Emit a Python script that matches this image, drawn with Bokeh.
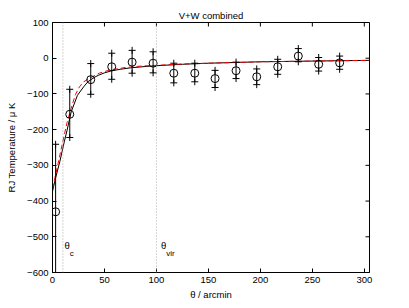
import math
from bokeh.plotting import figure
from bokeh.models import Span, Range1d, FixedTicker
from bokeh.core.properties import value
from bokeh.embed import file_html
from bokeh.resources import INLINE

# data points (theta in arcmin, T in micro K)
theta = [3, 16.6, 36.8, 57, 76.6, 96.8, 116.7, 136.9, 156.4, 176.6, 196.5, 216.7, 236.5, 256.1, 276.3]
temp = [-430, -157, -60, -24, -11, -14, -42, -42, -57, -35, -52, -24, 6, -17, -13]
err_hi = [-241, -87, -15, 14, 22, 18, -14, -14, -34, -11, -30, -3, 27, 2, 6]
err_lo = [-660, -222, -101, -59, -42, -41, -69, -66, -82, -57, -74, -45, -10, -36, -31]

# model curves
model_x = [0, 3, 7, 11.5, 14, 18, 24, 30, 34, 40, 44, 50, 56, 65, 75, 90, 100, 125, 150, 200, 250, 305]
model_y = [-373, -335, -290, -232, -202, -150, -104, -80, -66, -54, -48, -41, -36, -31, -27, -23, -21, -17, -14, -10, -8, -6]
alt_x = [0, 5, 10, 14, 18, 22, 26, 30, 37, 45, 55, 70, 85, 100, 125, 150, 200, 250, 305]
alt_y = [-365, -300, -232, -180, -140, -102, -80, -66, -54, -42, -33, -26, -22, -20, -16, -14, -10, -8, -6]

theta_c = 10
theta_vir = 100

x_min, x_max = 0, 305
y_min, y_max = -600, 100
x_ticks = [0, 50, 100, 150, 200, 250, 300]
y_ticks = [-600, -500, -400, -300, -200, -100, 0, 100]

FONT = "Liberation Sans"
FS = "9.5px"

p = figure(frame_width=317, frame_height=250, output_backend="svg", toolbar_location=None,
           x_range=Range1d(x_min, x_max), y_range=Range1d(y_min, y_max),
           min_border_left=52, min_border_top=22, min_border_right=20, min_border_bottom=30,
           title="V+W combined")
p.title.text_font = FONT
p.title.text_font_size = FS
p.title.text_font_style = "normal"
p.title.text_color = "black"
p.title.align = "center"
p.title.standoff = 3

p.background_fill_color = "white"
p.border_fill_color = "white"
p.outline_line_color = "black"
p.outline_line_width = 1
p.xgrid.visible = False
p.ygrid.visible = False

for ax in (p.xaxis[0], p.yaxis[0]):
    ax.major_tick_in = 4
    ax.major_tick_out = 0
    ax.minor_tick_line_color = None
    ax.major_label_text_font = FONT
    ax.major_label_text_font_size = FS
    ax.major_label_text_color = "black"
    ax.axis_label_text_font = FONT
    ax.axis_label_text_font_size = FS
    ax.axis_label_text_font_style = "normal"
    ax.axis_label_text_color = "black"
    ax.axis_line_color = "black"
    ax.major_tick_line_color = "black"
p.xaxis[0].ticker = FixedTicker(ticks=x_ticks)
p.yaxis[0].ticker = FixedTicker(ticks=y_ticks)
p.xaxis[0].axis_label = "θ / arcmin"
p.yaxis[0].axis_label = "RJ Temperature / μ K"
p.xaxis[0].major_label_standoff = 4
p.xaxis[0].axis_label_standoff = 3
p.yaxis[0].major_label_standoff = 4
p.yaxis[0].axis_label_standoff = 7

# ticks on the top and right edges of the box (half of each dash is clipped by the frame)
p.scatter(x_ticks, [y_max] * len(x_ticks), marker="dash", angle=math.pi / 2, size=8,
          line_color="black", line_width=1)
p.scatter([x_max] * len(y_ticks), y_ticks, marker="dash", size=8, line_color="black", line_width=1)

p.add_layout(Span(location=theta_c, dimension="height", line_color="#aaaaaa", line_dash="1 2", line_width=1))
p.add_layout(Span(location=theta_vir, dimension="height", line_color="#aaaaaa", line_dash="1 2", line_width=1))

p.line(model_x, model_y, line_color="black", line_width=1)
p.line(alt_x, alt_y, line_color="red", line_width=1, line_dash="5 3")

p.segment(x0=theta, y0=err_lo, x1=theta, y1=err_hi, line_color="black", line_width=1)
p.scatter(theta, err_hi, marker="cross", size=7, line_color="black", line_width=1)
p.scatter(theta[1:], err_lo[1:], marker="cross", size=7, line_color="black", line_width=1)
p.scatter(theta, temp, marker="circle", size=8, fill_color=None, line_color="black", line_width=1)

p.text(x=[theta_c + 1.5, theta_vir + 4.5], y=[-525, -525], text=["θ", "θ"], text_color="black",
       text_font=value(FONT), text_font_size=FS, text_baseline="middle", text_align="left")
p.text(x=[theta_c + 6.5, theta_vir + 9.5], y=[-548, -548], text=["c", "vir"], text_color="black",
       text_font=value(FONT), text_font_size="8px", text_baseline="middle", text_align="left")

open("out.html", "w").write(file_html(p, INLINE))
